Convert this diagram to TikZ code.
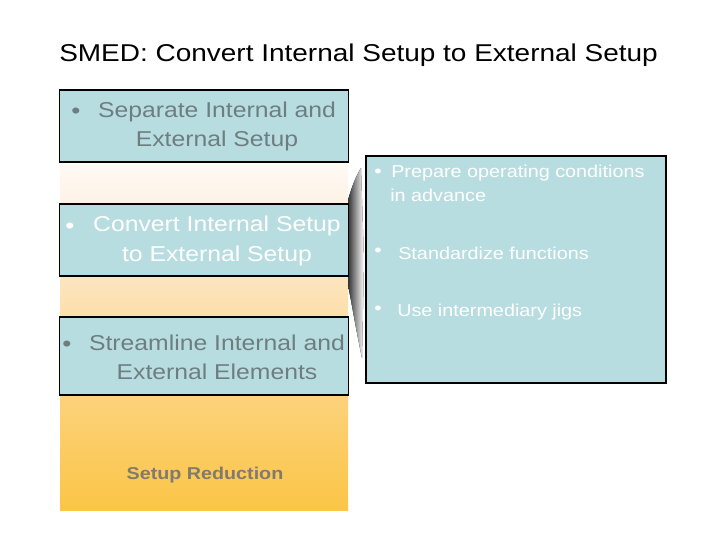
\documentclass[tikz,border=0pt]{standalone}
\usepackage{fontspec}
\setmainfont[FakeStretch=1.15]{Liberation Sans}
\usetikzlibrary{positioning,calc}
\definecolor{stepblue}{HTML}{B8DDE1}
\definecolor{slategray}{HTML}{6E7E80}
\definecolor{labelbrown}{HTML}{807B6C}
\definecolor{creamtop}{HTML}{FFFAF5}
\definecolor{creammid}{HTML}{FEF2E5}
\definecolor{peach}{HTML}{FDE5C0}
\definecolor{peachdeep}{HTML}{FDDEA8}
\definecolor{amberlight}{HTML}{FCD27C}
\definecolor{amber}{HTML}{FBC546}
\pgfdeclareverticalshading{setupfade}{100bp}{color(0bp)=(amber); color(25bp)=(amber);
  color(41.5bp)=(amberlight); color(52.5bp)=(peachdeep); color(58.5bp)=(peach);
  color(69bp)=(creammid); color(75bp)=(creamtop); color(100bp)=(creamtop)}
\tikzset{
  stepbox/.style={draw=black,line width=1.4pt,fill=stepblue,minimum width=72.25mm,
                  minimum height=18mm,inner sep=0pt},
  steptext/.style={align=center,font=\fontsize{15.3}{21}\selectfont,inner sep=0pt},
  notetext/.style={font=\fontsize{12.25}{17}\selectfont,text=white,inner sep=0pt,anchor=base west},
  bulletmark/.style={inner sep=0pt,font=\fontsize{16}{18}\selectfont}
}

\begin{document}
\begin{tikzpicture}[x=0.25mm,y=-0.25mm]
    \useasboundingbox (0,0) rectangle (720,540);
    % title
    \node[inner sep=0pt,anchor=base west,font=\fontsize{17.3}{20}\selectfont] (title) at (59,61)
      {SMED: Convert Internal Setup to External Setup};
    % shaded column behind the steps
    \fill[shading=setupfade] (60,162) rectangle (348,510);
    % callout wedge
    \fill[left color=black!80,right color=white]
      (348,200) .. controls (352,186) and (356,176) .. (361,168) -- (364,260) -- (362,358)
      .. controls (356,330) and (352,305) .. (348,285) -- cycle;
    % steps
    \node[stepbox] (separate) at (204,126) {};
    \node[steptext,text=slategray] (separatetxt) at (217,126.5) {Separate Internal and\\External Setup};
    \node[bulletmark,text=slategray] at (76,113) {•};
    \node[stepbox] (convert) at (204,240) {};
    \node[steptext,text=white] (converttxt) at (217,241) {Convert Internal Setup\\to External Setup};
    \node[bulletmark,text=white] at (70,228) {•};
    \node[stepbox,minimum height=19.5mm] (streamline) at (204,356) {};
    \node[steptext,text=slategray] (streamlinetxt) at (217,357.5) {Streamline Internal and\\External Elements};
    \node[bulletmark,text=slategray] at (67,346) {•};
    \node[inner sep=0pt,text=labelbrown,font=\fontsize{12.2}{15}\selectfont\bfseries] (reduction) at (205,475)
      {Setup Reduction};
    % detail box
    \node[stepbox,minimum width=75mm,minimum height=56.75mm] (detail) at (516,269.5) {};
    \node[notetext] (prepare) at (391,177) {Prepare operating conditions};
    \node[notetext] (advance) at (390,201) {in advance};
    \node[notetext] (standard) at (398,259) {Standardize functions};
    \node[notetext] (jigs) at (397,316) {Use intermediary jigs};
    \node[bulletmark,text=white,font=\fontsize{13}{15}\selectfont] at (378,173) {•};
    \node[bulletmark,text=white,font=\fontsize{13}{15}\selectfont] at (378,252) {•};
    \node[bulletmark,text=white,font=\fontsize{13}{15}\selectfont] at (378,310) {•};
  \end{tikzpicture}
\end{document}
